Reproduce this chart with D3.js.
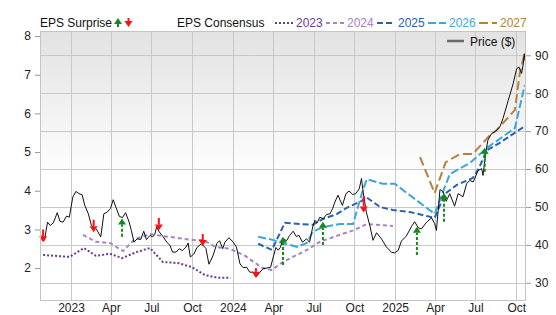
<!DOCTYPE html>
<html>
<head>
<meta charset="utf-8">
<title>EPS Surprise and Consensus</title>
<script src="https://d3js.org/d3.v7.min.js"></script>
<style>
body { margin: 0; background: #fff; }
svg { display: block; font-family: "Liberation Sans", Arial, sans-serif; font-size: 12px; }
</style>
</head>
<body>
<script>
// ---- data ----
const priceDates = ["2022-10-27","2022-11-02","2022-11-09","2022-11-15","2022-11-22","2022-12-01","2022-12-07","2022-12-14","2022-12-22","2022-12-28",
"2023-01-05","2023-01-12","2023-01-19","2023-01-26","2023-02-01","2023-02-09","2023-02-16","2023-02-21","2023-02-27","2023-03-09",
"2023-03-16","2023-03-23","2023-03-31","2023-04-06","2023-04-12","2023-04-20","2023-04-27","2023-05-04","2023-05-12","2023-05-17",
"2023-05-23","2023-05-30","2023-06-07","2023-06-14","2023-06-20","2023-06-28","2023-07-04","2023-07-09","2023-07-13","2023-07-19",
"2023-07-28","2023-08-05","2023-08-12","2023-08-18","2023-08-26","2023-09-02","2023-09-09","2023-09-17","2023-09-22","2023-09-27",
"2023-10-05","2023-10-12","2023-10-22","2023-11-01","2023-11-08","2023-11-17","2023-11-26","2023-12-02","2023-12-09","2023-12-14",
"2023-12-23","2024-01-02","2024-01-09","2024-01-17","2024-01-24","2024-02-01","2024-02-08","2024-02-16","2024-02-22","2024-03-02",
"2024-03-09","2024-03-18","2024-03-26","2024-04-01","2024-04-07","2024-04-12","2024-04-17","2024-04-23","2024-05-01","2024-05-08",
"2024-05-16","2024-05-23","2024-05-29","2024-06-06","2024-06-15","2024-06-22","2024-06-29","2024-07-04","2024-07-09","2024-07-15",
"2024-07-23","2024-07-30","2024-08-07","2024-08-13","2024-08-18","2024-08-25","2024-09-04","2024-09-12","2024-09-19","2024-09-27",
"2024-10-04","2024-10-12","2024-10-17","2024-10-21","2024-10-28","2024-11-05","2024-11-12","2024-11-20","2024-12-01","2024-12-12",
"2024-12-24","2024-12-31","2025-01-08","2025-01-15","2025-01-26","2025-02-07","2025-02-14","2025-02-22","2025-03-01","2025-03-13",
"2025-03-24","2025-03-31","2025-04-04","2025-04-12","2025-04-19","2025-04-26","2025-05-04","2025-05-15","2025-05-23","2025-06-03",
"2025-06-11","2025-06-18","2025-06-26","2025-07-07","2025-07-15","2025-07-18","2025-07-24","2025-07-29","2025-08-06","2025-08-16",
"2025-08-25","2025-09-01","2025-09-13","2025-09-24","2025-10-02","2025-10-07","2025-10-13","2025-10-17","2025-10-19","2025-10-21"];
const priceValues = [42.5,41.2,46.0,45.1,45.8,48.5,46.2,46.0,47.6,47.3,
52.6,54.1,53.5,53.2,50.4,48.2,45.1,44.7,44.2,42.1,
48.2,48.6,49.6,51.9,50.0,47.5,47.2,48.5,46.0,43.8,
40.7,41.6,41.4,43.6,41.4,42.5,42.1,42.8,44.7,43.4,
42.1,40.7,39.9,38.1,38.1,39.0,38.5,39.4,40.5,36.8,
37.6,39.3,40.3,39.1,34.9,37.1,40.4,41.1,39.0,40.7,
41.9,40.7,39.4,35.0,34.0,34.1,32.8,32.8,31.5,32.8,
33.7,33.9,34.1,36.8,39.3,38.6,39.3,41.6,41.1,42.5,
43.6,42.2,42.5,40.7,41.6,40.7,44.7,46.5,45.8,47.3,
46.9,48.0,48.2,49.6,51.3,53.1,50.4,53.5,54.2,53.3,
53.5,54.8,57.5,53.7,48.6,45.0,41.2,43.2,41.6,39.5,
38.0,37.9,38.6,41.0,42.3,44.9,46.1,44.5,44.2,46.0,
47.1,45.6,43.8,54.6,54.0,51.5,53.5,50.2,53.5,52.7,
56.1,57.0,56.6,59.6,60.1,58.3,64.1,67.6,69.3,70.0,
71.1,73.3,78.1,82.5,86.5,86.9,85.2,87.8,90.4,88.5];

const eps2023Dates = ["2022-10-30","2022-12-29","2023-01-30","2023-02-26","2023-03-30","2023-04-26","2023-05-30","2023-06-28","2023-07-27","2023-08-30","2023-09-30","2023-10-30","2023-11-28","2023-12-27"];
const eps2023Values = [2.34,2.29,2.52,2.32,2.37,2.26,2.42,2.52,2.16,2.13,2.03,1.82,1.75,1.75];

const eps2024Dates = ["2023-01-28","2023-02-26","2023-03-30","2023-04-28","2023-05-25","2023-06-28","2023-07-27","2023-08-30","2023-09-30","2023-10-26","2023-11-22","2023-12-25","2024-01-28","2024-03-07","2024-03-29","2024-04-23","2024-05-15","2024-06-16","2024-07-15","2024-08-29","2024-10-02","2024-10-29","2024-12-27"];
const eps2024Values = [2.86,2.68,2.65,2.44,2.75,2.88,2.83,2.78,2.73,2.73,2.55,2.50,2.32,2.01,1.95,2.16,2.29,2.47,2.68,2.86,2.99,3.14,3.09];

const eps2025Dates = ["2024-02-27","2024-03-29","2024-04-27","2024-05-31","2024-06-29","2024-07-22","2024-08-23","2024-09-14","2024-10-18","2024-10-27","2024-11-28","2024-12-27","2025-02-03","2025-03-31","2025-04-23","2025-05-20","2025-06-25","2025-07-09","2025-07-27","2025-08-25","2025-10-18"];
const eps2025Values = [2.63,2.47,3.17,3.14,3.12,3.27,3.40,3.56,3.74,3.84,3.58,3.50,3.45,3.30,3.92,4.15,4.33,4.59,5.05,5.24,5.65];

const eps2026Dates = ["2024-02-27","2024-03-31","2024-04-27","2024-05-25","2024-06-16","2024-06-29","2024-07-22","2024-08-29","2024-09-28","2024-10-18","2024-10-29","2024-12-04","2024-12-31","2025-03-31","2025-04-23","2025-05-04","2025-06-19","2025-07-27","2025-09-28","2025-10-20"];
const eps2026Values = [2.81,2.73,2.63,2.55,2.65,2.94,3.06,3.14,3.14,3.94,4.30,4.18,4.18,3.40,4.10,4.43,4.72,5.11,5.62,6.73];

const eps2027Dates = ["2025-02-26","2025-03-31","2025-04-25","2025-05-27","2025-06-25","2025-08-03","2025-08-18","2025-09-28","2025-10-09","2025-10-20"];
const eps2027Values = [4.87,3.94,4.74,4.95,4.95,5.44,5.57,6.09,7.04,7.56];

const surpriseDates = ["2022-10-30","2023-02-21","2023-04-26","2023-07-18","2023-10-25","2024-02-22","2024-04-23","2024-07-22","2024-10-22","2025-02-19","2025-04-21","2025-07-22"];
const surpriseEstimates = [3.00,3.25,2.81,3.30,2.88,2.00,2.08,2.60,3.87,2.34,3.20,4.49];
const surpriseActuals = [2.67,2.93,3.28,2.97,2.57,1.75,2.81,3.20,3.44,3.07,3.94,5.11];

const epsTicks = [2, 3, 4, 5, 6, 7, 8];
const priceTicks = [30, 40, 50, 60, 70, 80, 90];
const xTickDates = ["2023-01-01","2023-04-01","2023-07-01","2023-10-01","2024-01-01","2024-04-01","2024-07-01","2024-10-01","2025-01-01","2025-04-01","2025-07-01","2025-10-01"];
const xTickLabels = ["2023","Apr","Jul","Oct","2024","Apr","Jul","Oct","2025","Apr","Jul","Oct"];

const seriesNames = ["2023", "2024", "2025", "2026", "2027"];
const seriesColors = ["#6b3b92", "#a683c4", "#2862ad", "#3ea6d9", "#b5813a"];
const seriesDash = ["2,2", "4,3", "6,3", "8,3", "9,4"];

// ---- layout ----
const w = 556, h = 315;
const pLeft = 40, pRight = 526, pTop = 31, pBottom = 301;
const parse = d3.timeParse("%Y-%m-%d");

const svg = d3.select("body").append("svg").attr("width", w).attr("height", h);

const x = d3.scaleTime().domain([parse("2022-10-23"), parse("2025-10-23")]).range([pLeft, pRight]);
const yEps = d3.scaleLinear().domain([1.15, 8.13]).range([pBottom, pTop]);
const yPrice = d3.scaleLinear().domain([25.2, 96.4]).range([pBottom, pTop]);

// background gradient
const grad = svg.append("defs").append("linearGradient").attr("id", "bg")
    .attr("x1", 0).attr("y1", 0).attr("x2", 0).attr("y2", 1);
grad.append("stop").attr("offset", "0%").attr("stop-color", "#e2e2e2");
grad.append("stop").attr("offset", "55%").attr("stop-color", "#ffffff");

svg.append("rect").attr("x", pLeft).attr("y", pTop).attr("width", pRight - pLeft).attr("height", pBottom - pTop)
    .attr("fill", "url(#bg)");

// grid
const grid = svg.append("g").attr("stroke", "#c9c9c9").attr("stroke-width", 1);
grid.selectAll(".hg").data(priceTicks).enter().append("line")
    .attr("x1", pLeft).attr("x2", pRight)
    .attr("y1", d => Math.round(yPrice(d)) + 0.5).attr("y2", d => Math.round(yPrice(d)) + 0.5);
grid.selectAll(".vg").data(xTickDates).enter().append("line")
    .attr("y1", pTop).attr("y2", pBottom)
    .attr("x1", d => Math.round(x(parse(d))) + 0.5).attr("x2", d => Math.round(x(parse(d))) + 0.5);

// consensus lines
const epsLine = d3.line().x(d => x(d[0])).y(d => yEps(d[1]));
const allDates = [eps2023Dates, eps2024Dates, eps2025Dates, eps2026Dates, eps2027Dates];
const allValues = [eps2023Values, eps2024Values, eps2025Values, eps2026Values, eps2027Values];
allDates.forEach((ds, i) => {
    const pts = ds.map((d, j) => [parse(d), allValues[i][j]]);
    svg.append("path").attr("d", epsLine(pts))
        .attr("fill", "none").attr("stroke", seriesColors[i]).attr("stroke-width", 2)
        .attr("stroke-dasharray", seriesDash[i]);
});

// price line
const priceLine = d3.line().x(d => x(d[0])).y(d => yPrice(d[1]));
svg.append("path")
    .attr("d", priceLine(priceDates.map((d, i) => [parse(d), priceValues[i]])))
    .attr("fill", "none").attr("stroke", "#111").attr("stroke-width", 1);

// surprise arrows
function arrow(g, cx, yTip, yTail, color, dashed) {
    const dir = yTail > yTip ? 1 : -1;
    const base = yTip + dir * 6;
    g.append("line").attr("x1", cx).attr("x2", cx).attr("y1", yTail).attr("y2", base)
        .attr("stroke", color).attr("stroke-width", 2)
        .attr("stroke-dasharray", dashed ? "3,2" : null);
    g.append("path").attr("d", "M" + cx + "," + yTip + "L" + (cx - 4) + "," + base + "L" + (cx + 4) + "," + base + "Z")
        .attr("fill", color);
}
const arrows = svg.append("g");
surpriseDates.forEach((d, i) => {
    const up = surpriseActuals[i] > surpriseEstimates[i];
    arrow(arrows, x(parse(d)), yEps(surpriseActuals[i]), yEps(surpriseEstimates[i]),
        up ? "#14891a" : "#ff1010", up);
});

// border
svg.append("rect").attr("x", pLeft + 0.5).attr("y", pTop + 0.5)
    .attr("width", pRight - pLeft - 1).attr("height", pBottom - pTop - 1)
    .attr("fill", "none").attr("stroke", "#c4c4c4");

// axes
function styleAxis(g) {
    g.select(".domain").remove();
    g.selectAll("line").attr("stroke", "#999");
    g.selectAll("text").attr("fill", "#222").attr("font-size", 12)
        .attr("font-family", "'Liberation Sans', Arial, sans-serif");
}
svg.append("g").attr("transform", "translate(" + pLeft + ",0)")
    .call(d3.axisLeft(yEps).tickValues(epsTicks).tickSize(5).tickPadding(4).tickFormat(d3.format("d")))
    .call(styleAxis);
svg.append("g").attr("transform", "translate(" + pRight + ",0)")
    .call(d3.axisRight(yPrice).tickValues(priceTicks).tickSize(5).tickPadding(4).tickFormat(d3.format("d")))
    .call(styleAxis);
svg.append("g").attr("transform", "translate(0," + pBottom + ")")
    .call(d3.axisBottom(x).tickValues(xTickDates.map(parse)).tickSize(0).tickPadding(2)
        .tickFormat((d, i) => xTickLabels[i]))
    .call(styleAxis);

// legend
const legend = svg.append("g").attr("font-size", 12);
legend.append("text").attr("x", 40).attr("y", 27).attr("fill", "#111").text("EPS Surprise");
arrow(legend, 118, 18, 27, "#14891a", false);
arrow(legend, 128.5, 27, 18, "#ff1010", false);
legend.append("text").attr("x", 177).attr("y", 27).attr("fill", "#111").text("EPS Consensus");
seriesNames.forEach((name, i) => {
    const lx = 275 + i * 51;
    legend.append("line").attr("x1", lx).attr("x2", lx + 18).attr("y1", 23).attr("y2", 23)
        .attr("stroke", seriesColors[i]).attr("stroke-width", 2).attr("stroke-dasharray", seriesDash[i]);
    legend.append("text").attr("x", lx + 21).attr("y", 27).attr("fill", seriesColors[i]).text(name);
});
legend.append("line").attr("x1", 447).attr("x2", 464).attr("y1", 41).attr("y2", 41)
    .attr("stroke", "#6a6a6a").attr("stroke-width", 2.5);
legend.append("text").attr("x", 470).attr("y", 45.5).attr("fill", "#111").text("Price ($)");
</script>
</body>
</html>
